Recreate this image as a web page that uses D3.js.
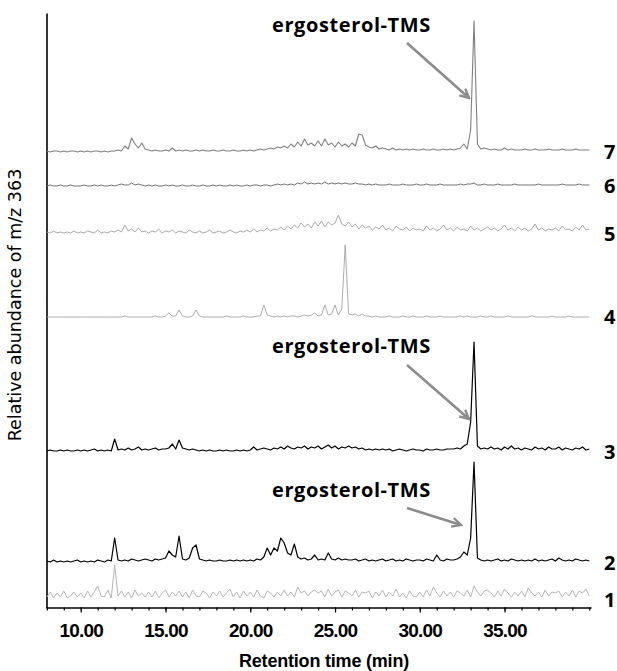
<!DOCTYPE html>
<html>
<head>
<meta charset="utf-8">
<script src="https://cdn.jsdelivr.net/npm/d3@7"></script>
<style>
  body { margin: 0; background: #fff; }
  svg { display: block; }
</style>
</head>
<body>
<div id="chart"></div>
<script>
// retention time sampling (min)
const tStart = 8.0;
const tStep = 0.2;

// relative abundance of m/z 363, one value per 0.2 min from 8.0 to 40.0
const trace1 = [
  3, 8, 2, 7, 3, 9, 2, 4, 8, 3,
  7, 2, 9, 3, 8, 14, 4, 3, 10, 2,
  35, 4, 9, 3, 8, 2, 10, 4, 7, 3,
  8, 3, 9, 2, 7, 10, 3, 8, 4, 9,
  3, 8, 2, 10, 4, 3, 9, 7, 2, 8,
  4, 9, 3, 7, 11, 3, 8, 2, 9, 4,
  8, 3, 10, 4, 2, 9, 7, 3, 8, 4,
  10, 4, 8, 3, 13, 7, 9, 4, 8, 10,
  7, 9, 3, 11, 4, 8, 10, 3, 9, 7,
  4, 10, 3, 8, 7, 9, 2, 8, 4, 10,
  3, 8, 4, 11, 3, 7, 2, 9, 4, 3,
  8, 3, 10, 4, 13, 7, 3, 9, 4, 8,
  3, 9, 7, 4, 10, 3, 14, 8, 4, 9,
  10, 7, 3, 9, 4, 11, 7, 3, 8, 4,
  9, 3, 12, 7, 4, 8, 3, 10, 4, 8,
  7, 9, 3, 8, 4, 10, 3, 9, 7, 11,
  4
];
const trace2 = [
  2, 1, 3, 1, 2, 1, 2, 1, 2, 3,
  1, 2, 1, 2, 1, 3, 2, 1, 3, 2,
  25, 3, 2, 3, 2, 4, 3, 2, 3, 4,
  3, 2, 4, 3, 4, 5, 12, 8, 6, 27,
  4, 3, 5, 15, 18, 4, 3, 2, 3, 2,
  2, 3, 2, 2, 3, 2, 3, 2, 3, 2,
  3, 2, 4, 3, 6, 15, 8, 15, 12, 25,
  20, 10, 8, 19, 6, 4, 5, 3, 4, 8,
  3, 4, 3, 10, 4, 3, 5, 3, 4, 3,
  3, 4, 2, 3, 4, 2, 3, 2, 3, 4,
  2, 3, 4, 2, 3, 2, 4, 3, 2, 3,
  3, 2, 4, 3, 2, 8, 3, 2, 4, 3,
  3, 4, 6, 11, 8, 25, 101, 5, 3, 2,
  3, 2, 3, 4, 2, 3, 2, 4, 3, 2,
  3, 2, 3, 2, 4, 2, 3, 2, 3, 4,
  2, 5, 3, 2, 3, 2, 4, 3, 2, 3,
  2
];
const trace3 = [
  1, 2, 1, 1, 2, 1, 2, 1, 1, 2,
  1, 2, 1, 2, 3, 1, 2, 1, 2, 1,
  13, 2, 3, 2, 4, 2, 3, 5, 2, 3,
  2, 3, 4, 2, 3, 3, 4, 8, 3, 12,
  4, 3, 2, 3, 2, 1, 2, 1, 2, 1,
  1, 2, 1, 2, 1, 1, 2, 1, 2, 1,
  2, 5, 2, 3, 4, 3, 2, 4, 3, 5,
  3, 6, 4, 3, 5, 4, 6, 3, 5, 4,
  6, 3, 5, 7, 4, 6, 3, 5, 4, 6,
  4, 5, 3, 4, 2, 3, 2, 3, 2, 3,
  2, 3, 1, 2, 3, 2, 1, 2, 3, 2,
  2, 1, 3, 2, 2, 3, 2, 2, 3, 3,
  3, 4, 3, 6, 8, 30, 110, 6, 3, 4,
  3, 5, 3, 4, 2, 5, 3, 6, 3, 4,
  2, 4, 3, 2, 5, 3, 4, 2, 5, 3,
  3, 5, 2, 4, 3, 2, 4, 3, 5, 2,
  3
];
const trace4 = [
  0, 0, 0, 0, 0, 0, 0, 0, 0, 0,
  0, 0, 0, 0, 0, 0, 0, 0, 0, 0,
  0, 0, 0, 1, 0, 0, 0, 0, 0, 0,
  0, 0, 1, 0, 0, 1, 4, 1, 1, 7,
  1, 0, 0, 1, 7, 1, 0, 0, 0, 0,
  0, 0, 0, 1, 0, 0, 0, 0, 1, 0,
  0, 0, 1, 1, 12, 2, 1, 0, 1, 0,
  1, 0, 1, 1, 0, 1, 2, 1, 2, 4,
  1, 2, 12, 2, 3, 12, 2, 8, 72, 3,
  2, 3, 1, 3, 1, 1, 0, 1, 0, 0,
  0, 1, 0, 0, 0, 1, 0, 0, 1, 0,
  0, 0, 1, 0, 0, 0, 1, 0, 0, 0,
  0, 0, 1, 0, 1, 0, 0, 0, 1, 0,
  0, 1, 0, 0, 0, 0, 1, 0, 0, 0,
  0, 0, 0, 1, 0, 0, 0, 0, 0, 1,
  0, 0, 0, 0, 1, 0, 0, 0, 0, 0,
  0
];
const trace5 = [
  2, 1, 3, 1, 2, 1, 2, 1, 3, 1,
  2, 1, 3, 2, 1, 4, 1, 2, 1, 3,
  2, 4, 2, 9, 3, 5, 2, 6, 2, 3,
  1, 3, 2, 5, 1, 3, 2, 4, 1, 3,
  2, 1, 4, 2, 1, 3, 1, 2, 4, 1,
  2, 3, 1, 2, 4, 2, 1, 3, 2, 4,
  2, 5, 2, 4, 3, 6, 3, 5, 4, 7,
  4, 8, 5, 9, 6, 11, 7, 10, 6, 12,
  8, 13, 7, 12, 9, 11, 19, 10, 8, 12,
  7, 10, 5, 9, 6, 8, 4, 7, 5, 9,
  4, 6, 3, 8, 5, 4, 7, 3, 6, 4,
  5, 3, 8, 4, 6, 3, 5, 9, 4, 6,
  3, 7, 4, 5, 3, 8, 4, 6, 3, 5,
  7, 4, 6, 3, 5, 9, 4, 6, 3, 7,
  4, 6, 3, 5, 10, 4, 6, 3, 5, 4,
  6, 3, 8, 4, 5, 3, 7, 4, 9, 4,
  5
];
const trace6 = [
  0, 1, 0, 0, 1, 0, 0, 1, 0, 0,
  0, 1, 0, 0, 1, 0, 1, 0, 0, 1,
  0, 1, 2, 1, 1, 3, 1, 2, 1, 0,
  1, 0, 1, 0, 0, 1, 0, 1, 0, 0,
  1, 0, 0, 1, 0, 0, 1, 0, 0, 1,
  0, 1, 0, 0, 1, 0, 1, 0, 0, 1,
  0, 1, 1, 0, 1, 1, 0, 1, 2, 1,
  2, 1, 2, 1, 3, 2, 4, 2, 3, 2,
  3, 2, 4, 2, 3, 2, 3, 2, 3, 2,
  2, 3, 2, 2, 1, 2, 1, 2, 1, 1,
  1, 2, 1, 1, 1, 2, 1, 1, 1, 2,
  1, 1, 2, 1, 1, 1, 2, 1, 1, 1,
  1, 1, 2, 1, 2, 2, 3, 1, 1, 2,
  1, 1, 1, 2, 1, 1, 1, 1, 2, 1,
  1, 1, 1, 1, 1, 2, 1, 1, 1, 1,
  1, 1, 2, 1, 1, 1, 1, 2, 1, 1,
  1
];
const trace7 = [
  1, 0, 1, 1, 0, 1, 0, 1, 1, 0,
  1, 0, 1, 0, 1, 1, 0, 1, 0, 1,
  1, 2, 1, 6, 3, 14, 8, 4, 9, 3,
  2, 1, 2, 1, 1, 2, 1, 4, 1, 2,
  1, 2, 1, 1, 2, 1, 2, 1, 1, 2,
  1, 1, 2, 1, 1, 2, 1, 1, 2, 1,
  2, 1, 2, 3, 2, 3, 4, 3, 5, 4,
  6, 4, 8, 5, 10, 6, 13, 7, 9, 6,
  11, 6, 13, 7, 9, 5, 10, 6, 8, 5,
  9, 6, 18, 17, 7, 5, 4, 6, 3, 4,
  3, 2, 4, 2, 3, 2, 3, 2, 3, 2,
  2, 3, 2, 2, 3, 2, 2, 3, 2, 3,
  2, 3, 4, 8, 3, 22, 131, 8, 3, 4,
  3, 2, 3, 2, 2, 4, 2, 3, 2, 2,
  2, 3, 2, 2, 3, 2, 2, 2, 3, 2,
  2, 2, 3, 2, 2, 2, 3, 2, 2, 2,
  2
];

const traceNames = ['1', '2', '3', '4', '5', '6', '7'];
const traceData = [trace1, trace2, trace3, trace4, trace5, trace6, trace7];
const tickLabels = [10, 15, 20, 25, 30, 35];
const peakLabel = 'ergosterol-TMS';

// layout: baseline of each stacked trace (px), colours and widths
const baselines = [600, 563, 452, 317, 234, 186, 152];
const colors = ['#b5b5b5', '#000000', '#000000', '#a3a3a3', '#a9a9a9', '#707070', '#808080'];
const widths = [1, 1.2, 1.2, 0.9, 1, 1, 1.1];

// annotation positions: text baseline, arrow start and end
const notes = [
  { x: 272, y: 32, x1: 407, y1: 43, x2: 469, y2: 98 },
  { x: 272, y: 353, x1: 407, y1: 365, x2: 469, y2: 419 },
  { x: 272, y: 497, x1: 407, y1: 508, x2: 461, y2: 525 }
];

const chartW = 617, chartH = 671;
const plotLeft = 46, plotRight = 591, plotTop = 13, axisY = 607.5;

const svg = d3.select('#chart').append('svg')
  .attr('width', chartW)
  .attr('height', chartH);

const x = d3.scaleLinear().domain([7.95, 40.1]).range([plotLeft, plotRight]);

// Y axis (no ticks)
const yAxisScale = d3.scaleLinear().domain([0, 1]).range([axisY, plotTop]);
svg.append('g')
  .attr('transform', 'translate(' + (plotLeft + 0.5) + ',0)')
  .call(d3.axisLeft(yAxisScale).tickValues([]).tickSizeOuter(0))
  .call(g => g.select('.domain').attr('stroke', '#000').attr('stroke-width', 1.6));

// X axis: minor ticks every minute, major with labels every 5
const minorTicks = d3.range(8, 41);
svg.append('g')
  .attr('transform', 'translate(0,' + axisY + ')')
  .call(d3.axisBottom(x).tickValues(minorTicks).tickSize(3).tickSizeOuter(0).tickFormat(''))
  .call(g => g.select('.domain').attr('stroke', '#000').attr('stroke-width', 1.6))
  .call(g => g.selectAll('.tick line').attr('stroke', '#000').attr('stroke-width', 1.2));

const xAxisMajor = svg.append('g')
  .attr('transform', 'translate(0,' + axisY + ')')
  .call(d3.axisBottom(x).tickValues(tickLabels).tickSize(5).tickPadding(11).tickFormat(d3.format('.2f')));
xAxisMajor.select('.domain').remove();
xAxisMajor.selectAll('.tick line').attr('stroke', '#000').attr('stroke-width', 1.2);
xAxisMajor.selectAll('.tick text')
  .attr('fill', '#000')
  .style('font-family', '"Liberation Sans", Arial, sans-serif')
  .style('font-weight', 'bold')
  .style('font-size', '19px')
  .style('letter-spacing', '-0.8px');

// axis titles
svg.append('text')
  .attr('x', 324)
  .attr('y', 667)
  .attr('text-anchor', 'middle')
  .style('font-family', '"Liberation Sans", Arial, sans-serif')
  .style('font-weight', 'bold')
  .style('font-size', '18px')
  .style('letter-spacing', '-0.2px')
  .text('Retention time (min)');

svg.append('text')
  .attr('transform', 'translate(21,305)rotate(-90)')
  .attr('text-anchor', 'middle')
  .style('font-family', '"DejaVu Sans", sans-serif')
  .style('font-size', '17.5px')
  .text('Relative abundance of m/z 363');

// traces
traceData.forEach(function (values, k) {
  let y = d3.scaleLinear().domain([0, 100]).range([baselines[k], baselines[k] - 100]);
  let line = d3.line()
    .x((d, i) => x(tStart + i * tStep))
    .y(d => y(d));
  svg.append('path')
    .datum(values)
    .attr('d', line)
    .attr('fill', 'none')
    .attr('stroke', colors[k])
    .attr('stroke-width', widths[k])
    .attr('stroke-linejoin', 'round');

  svg.append('text')
    .attr('x', 604)
    .attr('y', baselines[k] + 7)
    .style('font-family', '"Open Sans", sans-serif')
    .style('font-weight', 'bold')
    .style('font-size', '20px')
    .text(traceNames[k]);
});

// arrows + labels
svg.append('defs').append('marker')
  .attr('id', 'arrow')
  .attr('viewBox', '0 0 12 12')
  .attr('refX', 10)
  .attr('refY', 6)
  .attr('markerWidth', 12)
  .attr('markerHeight', 12)
  .attr('markerUnits', 'userSpaceOnUse')
  .attr('orient', 'auto')
  .append('path')
  .attr('d', 'M1,1.5 L10,6 L1,10.5')
  .attr('fill', 'none')
  .attr('stroke', '#8c8c8c')
  .attr('stroke-width', 2.4);

notes.forEach(function (n) {
  svg.append('line')
    .attr('x1', n.x1).attr('y1', n.y1)
    .attr('x2', n.x2).attr('y2', n.y2)
    .attr('stroke', '#8c8c8c')
    .attr('stroke-width', 2.6)
    .attr('marker-end', 'url(#arrow)');
  svg.append('text')
    .attr('x', n.x)
    .attr('y', n.y)
    .style('font-family', '"Open Sans", sans-serif')
    .style('font-weight', 'bold')
    .style('font-size', '20px')
    .style('letter-spacing', '0.6px')
    .text(peakLabel);
});
</script>
</body>
</html>
